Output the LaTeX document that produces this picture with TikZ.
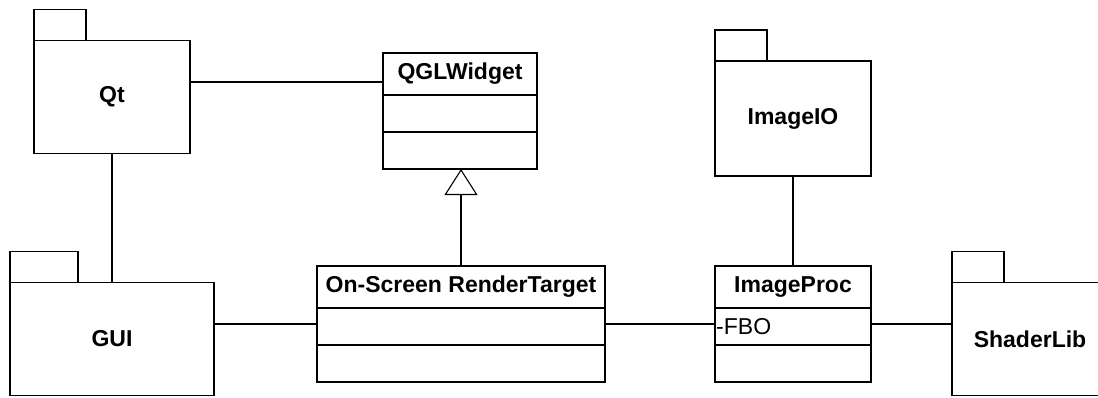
\documentclass[tikz,border=0pt]{standalone}
\usepackage{fontspec}
\setmainfont{Liberation Sans}
\usetikzlibrary{arrows.meta, positioning}

\tikzset{
  pkg/.style={draw, line width=1.6pt, minimum width=156pt, minimum height=113pt,
    inner sep=0pt, outer sep=0pt, font=\fontsize{23}{27}\selectfont\bfseries},
  pkgtab/.style={draw, line width=1.6pt, minimum width=52pt, minimum height=31pt,
    inner sep=0pt, outer sep=0pt, anchor=south west},
  clshead/.style={draw, line width=1.6pt, minimum height=42pt,
    inner sep=0pt, outer sep=0pt, font=\fontsize{23}{27}\selectfont\bfseries},
  clspart/.style={draw, line width=1.6pt, minimum height=37pt,
    inner sep=0pt, outer sep=0pt},
  link/.style={line width=1.1pt},
}

\begin{document}
\begin{tikzpicture}[x=1pt, y=-1pt]
  \path[use as bounding box, clip] (0,0) rectangle (1098,397);

  % packages
  \node[pkg] (qt) at (112, 97) {Qt};
  \node[pkgtab] (qttab) at (qt.north west) {};
  \node[pkg, minimum width=204pt] (gui) at (112, 339) {GUI};
  \node[pkgtab, minimum width=68pt] (guitab) at (gui.north west) {};
  \node[pkg, minimum height=115pt] (imageio) at (793, 118.5) {ImageIO};
  \node[pkgtab] (imageiotab) at (imageio.north west) {};
  \node[pkg] (shaderlib) at (1030, 339) {ShaderLib};
  \node[pkgtab] (shaderlibtab) at (shaderlib.north west) {};

  % classes
  \node[clshead, minimum width=154pt] (qgl) at (460, 74) {QGLWidget};
  \node[clspart, minimum width=154pt, below=0pt of qgl] (qglattr) {};
  \node[clspart, minimum width=154pt, below=0pt of qglattr] (qglops) {};

  \node[clshead, minimum width=288pt] (rt) at (461, 287) {On-Screen RenderTarget};
  \node[clspart, minimum width=288pt, below=0pt of rt] (rtattr) {};
  \node[clspart, minimum width=288pt, below=0pt of rtattr] (rtops) {};

  \node[clshead, minimum width=156pt] (ip) at (793, 287) {ImageProc};
  \node[clspart, minimum width=156pt, below=0pt of ip] (ipattr) {};
  \node[clspart, minimum width=156pt, below=0pt of ipattr] (ipops) {};
  \node[anchor=west, inner sep=1pt, font=\fontsize{23}{27}\selectfont] (fbo) at (ipattr.west) {-FBO};

  % connectors
  \coordinate (qtport) at ([yshift=15pt]qt.east);
  \coordinate (guiport) at ([yshift=15pt]gui.east);
  \coordinate (ipport) at ([yshift=2.5pt]ipattr.east);

  \draw[link]
  (qtport) edge (qtport -| qgl.west)
  (qt.south) edge (gui.north)
  (guiport) edge (guiport -| rtattr.west)
  (guiport -| rtattr.east) edge (guiport -| ipattr.west)
  (ipport) edge (ipport -| shaderlib.west)
  (imageio.south) edge (ip.north);

  \draw[link, -{Triangle[open, width=33pt, length=26pt]}] (rt.north) -- (rt.north |- qglops.south);
\end{tikzpicture}
\end{document}
